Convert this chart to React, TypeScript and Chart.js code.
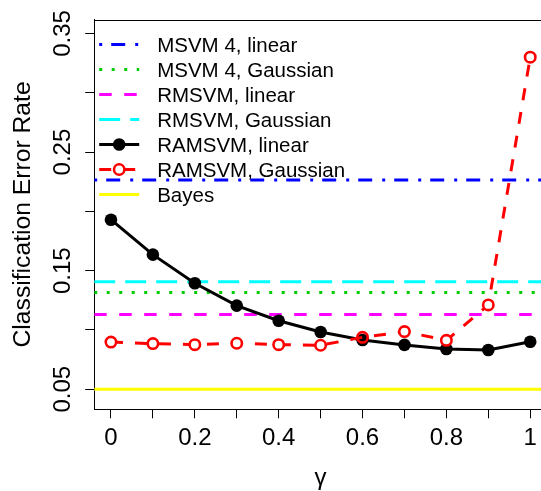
import { useEffect, useRef } from "react";
import { Chart, registerables } from "chart.js";

Chart.register(...registerables);

// ---- data ----
const GAMMA = [0, 0.1, 0.2, 0.3, 0.4, 0.5, 0.6, 0.7, 0.8, 0.9, 1];
const RAMSVM_LINEAR = [0.193, 0.1635, 0.1394, 0.1205, 0.1078, 0.0983, 0.0916, 0.0874, 0.084, 0.0831, 0.0901];
const RAMSVM_GAUSSIAN = [0.0898, 0.0885, 0.0876, 0.0888, 0.0876, 0.0871, 0.0938, 0.0986, 0.0913, 0.1211, 0.33];
const MSVM4_LINEAR = 0.2265;
const MSVM4_GAUSSIAN = 0.1316;
const RMSVM_LINEAR = 0.1131;
const RMSVM_GAUSSIAN = 0.1407;
const BAYES = 0.05;

const SERIES_LABELS = [
  "MSVM 4, linear",
  "MSVM 4, Gaussian",
  "RMSVM, linear",
  "RMSVM, Gaussian",
  "RAMSVM, linear",
  "RAMSVM, Gaussian",
  "Bayes",
];

const X_TICKS = [0, 0.1, 0.2, 0.3, 0.4, 0.5, 0.6, 0.7, 0.8, 0.9, 1];
const X_TICK_LABELS = ["0", "", "0.2", "", "0.4", "", "0.6", "", "0.8", "", "1"];
const Y_TICKS = [0.05, 0.1, 0.15, 0.2, 0.25, 0.3, 0.35];
const Y_TICK_LABELS = ["0.05", "", "0.15", "", "0.25", "", "0.35"];

const X_MIN = -0.04;
const X_MAX = 1.04;
const Y_MIN = 0.0331;
const Y_MAX = 0.3618;

const X_TITLE = "γ";
const Y_TITLE = "Classification Error Rate";

const FONT = "'Liberation Sans', Arial, Helvetica, sans-serif";

const hline = (v: number) => [
  { x: X_MIN, y: v },
  { x: X_MAX, y: v },
];
const series = (ys: number[]) => GAMMA.map((g, i) => ({ x: g, y: ys[i] }));

const rStylePlugin = {
  id: "rStyle",
  afterDraw(chart: any) {
    const { ctx, chartArea, scales } = chart;
    ctx.save();
    // top border of the box
    ctx.strokeStyle = "#000";
    ctx.lineWidth = 1;
    ctx.setLineDash([]);
    const ty = Math.round(chartArea.top) + 0.5;
    ctx.beginPath();
    ctx.moveTo(chartArea.left, ty);
    ctx.lineTo(chartArea.right, ty);
    ctx.stroke();

    // rotated y tick labels
    ctx.fillStyle = "#000";
    ctx.font = `24px ${FONT}`;
    ctx.textAlign = "center";
    ctx.textBaseline = "alphabetic";
    Y_TICKS.forEach((v, i) => {
      const lab = Y_TICK_LABELS[i];
      if (!lab) return;
      const y = scales.y.getPixelForValue(v);
      ctx.save();
      ctx.translate(chartArea.left - 24, y);
      ctx.rotate(-Math.PI / 2);
      ctx.fillText(lab, 0, 0);
      ctx.restore();
    });

    // legend (R style, no box)
    const x0 = chartArea.left + 5;
    const x1 = chartArea.left + 45;
    const tx = chartArea.left + 63;
    const y0 = chartArea.top + 25;
    const step = 25;
    chart.data.datasets.forEach((ds: any, i: number) => {
      const y = y0 + i * step;
      ctx.save();
      ctx.strokeStyle = ds.borderColor;
      ctx.lineWidth = ds.borderWidth;
      ctx.lineCap = "butt";
      ctx.setLineDash(ds.borderDash || []);
      ctx.lineDashOffset = 0;
      ctx.beginPath();
      ctx.moveTo(x0, y);
      ctx.lineTo(x1, y);
      ctx.stroke();
      ctx.setLineDash([]);
      if (ds.pointRadius > 0) {
        ctx.beginPath();
        ctx.arc((x0 + x1) / 2, y, ds.pointRadius, 0, Math.PI * 2);
        ctx.fillStyle = ds.legendFill;
        ctx.fill();
        if (ds.pointBorderWidth > 0) {
          ctx.lineWidth = ds.pointBorderWidth;
          ctx.strokeStyle = ds.pointBorderColor;
          ctx.stroke();
        }
      }
      ctx.fillStyle = "#000";
      ctx.font = `20.5px ${FONT}`;
      ctx.textAlign = "left";
      ctx.textBaseline = "alphabetic";
      ctx.fillText(SERIES_LABELS[i], tx, y + 7.5);
      ctx.restore();
    });
    ctx.restore();
  },
};

export default function App() {
  const ref = useRef<HTMLCanvasElement | null>(null);

  useEffect(() => {
    if (!ref.current) return;
    Chart.defaults.font.family = FONT;
    const lineBase = { pointRadius: 0, fill: false, tension: 0, borderCapStyle: "butt" };
    const chart = new Chart(ref.current, {
      type: "line",
      data: {
        datasets: [
          { ...lineBase, label: SERIES_LABELS[0], data: hline(MSVM4_LINEAR), borderColor: "#0000FF", borderWidth: 3, borderDash: [3, 9, 14, 10], order: 2 },
          { ...lineBase, label: SERIES_LABELS[1], data: hline(MSVM4_GAUSSIAN), borderColor: "#00CD00", borderWidth: 3, borderDash: [3, 9.5], order: 4 },
          { ...lineBase, label: SERIES_LABELS[2], data: hline(RMSVM_LINEAR), borderColor: "#FF00FF", borderWidth: 3, borderDash: [12.5, 12.5], order: 5 },
          { ...lineBase, label: SERIES_LABELS[3], data: hline(RMSVM_GAUSSIAN), borderColor: "#00FFFF", borderWidth: 3, borderDash: [21, 10], order: 3 },
          {
            label: SERIES_LABELS[4],
            data: series(RAMSVM_LINEAR),
            borderColor: "#000000",
            borderWidth: 3,
            tension: 0,
            fill: false,
            pointRadius: 6.3,
            pointBackgroundColor: "#000000",
            pointBorderColor: "#000000",
            pointBorderWidth: 0,
            legendFill: "#000000",
            order: 1,
          } as any,
          {
            label: SERIES_LABELS[5],
            data: series(RAMSVM_GAUSSIAN),
            borderColor: "#FF0000",
            borderWidth: 3,
            borderDash: [12, 12],
            borderCapStyle: "butt",
            tension: 0,
            fill: false,
            pointRadius: 5.2,
            pointBorderWidth: 2.6,
            pointBorderColor: "#FF0000",
            pointBackgroundColor: (c: any) =>
              Math.abs(RAMSVM_GAUSSIAN[c.dataIndex] - RAMSVM_LINEAR[c.dataIndex]) < 0.005 ? "rgba(255,255,255,0)" : "#FFFFFF",
            legendFill: "#FFFFFF",
            order: 0,
          } as any,
          { ...lineBase, label: SERIES_LABELS[6], data: hline(BAYES), borderColor: "#FFFF00", borderWidth: 3, order: 6 },
        ] as any,
      },
      options: {
        responsive: false,
        animation: false,
        events: [],
        layout: { autoPadding: false, padding: { top: 19.5, left: 0, right: 0, bottom: 0 } },
        plugins: { legend: { display: false }, tooltip: { enabled: false } },
        scales: {
          x: {
            type: "linear",
            min: X_MIN,
            max: X_MAX,
            bounds: "data",
            afterBuildTicks: (s: any) => {
              s.ticks = X_TICKS.map((v) => ({ value: v }));
            },
            afterFit: (s: any) => {
              s.height = 81.7;
              s.paddingLeft = 0;
              s.paddingRight = 0;
            },
            grid: { drawOnChartArea: false, drawTicks: true, tickLength: 9, color: "#000", lineWidth: 1 },
            border: { display: true, color: "#000", width: 1 },
            ticks: {
              autoSkip: false,
              maxRotation: 0,
              minRotation: 0,
              padding: 5.5,
              color: "#000",
              font: { size: 24, family: FONT },
              callback: (_v: any, i: number) => X_TICK_LABELS[i],
            },
            title: {
              display: true,
              text: X_TITLE,
              color: "#000",
              font: { size: 24, family: FONT, lineHeight: 1 },
              padding: { top: 0, bottom: 0.4 },
            },
          },
          y: {
            type: "linear",
            min: Y_MIN,
            max: Y_MAX,
            bounds: "data",
            afterBuildTicks: (s: any) => {
              s.ticks = Y_TICKS.map((v) => ({ value: v }));
            },
            afterFit: (s: any) => {
              s.width = 94.2;
              s.paddingTop = 0;
              s.paddingBottom = 0;
            },
            grid: { drawOnChartArea: false, drawTicks: true, tickLength: 9, color: "#000", lineWidth: 1 },
            border: { display: true, color: "#000", width: 1 },
            ticks: { display: false, autoSkip: false },
            title: {
              display: true,
              text: Y_TITLE,
              color: "#000",
              font: { size: 24.7, family: FONT },
              padding: { top: 8.3, bottom: 0 },
            },
          },
        },
      } as any,
      plugins: [rStylePlugin],
    });
    return () => chart.destroy();
  }, []);

  return (
    <div style={{ position: "absolute", left: 0, top: 0, width: 541, height: 491, overflow: "hidden", background: "#fff" }}>
      <canvas ref={ref} width={547} height={491} style={{ display: "block" }} />
    </div>
  );
}
